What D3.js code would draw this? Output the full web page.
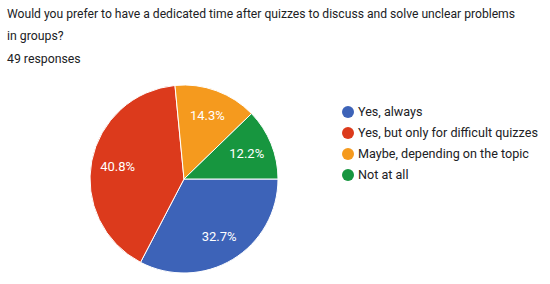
<!DOCTYPE html>
<html>
<head>
<meta charset="utf-8">
<script src="https://cdn.jsdelivr.net/npm/d3@7"></script>
<style>
  body { margin: 0; background: #fff; }
  text { font-family: Roboto, "Noto Sans", sans-serif; }
</style>
</head>
<body>
<svg width="550" height="284"></svg>
<script>
const titleLines = [
  "Would you prefer to have a dedicated time after quizzes to discuss and solve unclear problems",
  "in groups?"
];
const responsesText = "49 responses";
const categories = ["Yes, always", "Yes, but only for difficult quizzes", "Maybe, depending on the topic", "Not at all"];
const values = [16, 20, 7, 6];
const colors = ["#3d63b8", "#dc3a1c", "#f59a1e", "#17963f"];

const svg = d3.select("svg");
const total = d3.sum(values);
const data = categories.map((c, i) => ({ name: c, value: values[i], color: colors[i] }));

// header text
svg.selectAll("text.title")
  .data(titleLines)
  .enter()
  .append("text")
  .attr("class", "title")
  .attr("x", 7)
  .attr("y", (d, i) => 18 + i * 22)
  .attr("font-size", 12.3)
  .attr("fill", "#202124")
  .text(d => d)
  .each(function (d, i) {
    if (i === 0) d3.select(this).attr("textLength", 508).attr("lengthAdjust", "spacingAndGlyphs");
  });

svg.append("text")
  .attr("x", 7)
  .attr("y", 63)
  .attr("font-size", 12.3)
  .attr("fill", "#202124")
  .text(responsesText);

// pie
const cx = 184, cy = 179, r = 94;
const pie = d3.pie()
  .value(d => d.value)
  .sort(null)
  .startAngle(Math.PI / 2)
  .endAngle(Math.PI / 2 + 2 * Math.PI);
const arc = d3.arc().innerRadius(0).outerRadius(r);
const labelArc = d3.arc().innerRadius(r * 0.72).outerRadius(r * 0.72);

const g = svg.append("g").attr("transform", "translate(" + [cx, cy] + ")");

g.selectAll("path")
  .data(pie(data))
  .enter()
  .append("path")
  .attr("d", arc)
  .attr("fill", d => d.data.color)
  .attr("stroke", "#fff")
  .attr("stroke-width", 1);

g.selectAll("text")
  .data(pie(data))
  .enter()
  .append("text")
  .attr("transform", d => "translate(" + labelArc.centroid(d) + ")")
  .attr("text-anchor", "middle")
  .attr("dy", "0.35em")
  .attr("font-size", 13)
  .attr("fill", "#fff")
  .text(d => (d.data.value / total * 100).toFixed(1) + "%");

// legend
const legend = svg.append("g").attr("transform", "translate(348,112)");
const item = legend.selectAll("g")
  .data(data)
  .enter()
  .append("g")
  .attr("transform", (d, i) => "translate(0," + i * 21 + ")");

item.append("circle")
  .attr("r", 6)
  .attr("fill", d => d.color);

item.append("text")
  .attr("x", 10)
  .attr("dy", "0.35em")
  .attr("font-size", 12.6)
  .attr("fill", "#202124")
  .text(d => d.name);
</script>
</body>
</html>
